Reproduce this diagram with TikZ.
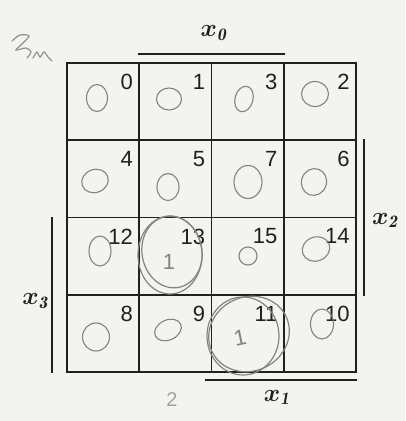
\documentclass[tikz,border=0pt]{standalone}
\usepackage{fontspec}
\newfontfamily\cellfont{Liberation Sans}
\usetikzlibrary{positioning, calc, shapes.geometric}
\definecolor{ink}{RGB}{32, 32, 32}
\definecolor{pencil}{RGB}{135, 130, 130}
\definecolor{paper}{RGB}{243, 243, 239}

\begin{document}
\begin{tikzpicture}[x=1pt, y=-1pt,
    cell/.style={draw=ink, line width=1.8pt, minimum width=72.25pt, minimum height=77.25pt, inner sep=0pt},
    cellnum/.style={font=\cellfont\fontsize{22}{24}\selectfont, text=ink, anchor=north east, inner sep=0pt},
    zeromark/.style={ellipse, draw=pencil, line width=1.1pt, inner sep=0pt},
    ring/.style={ellipse, draw=pencil, line width=1.2pt, inner sep=0pt},
    onemark/.style={font=\cellfont\fontsize{22}{22}\selectfont, text=pencil, inner sep=0pt},
    bar/.style={draw=ink, line width=1.8pt},
    varname/.style={font=\fontsize{25}{27}\selectfont\boldmath, text=ink, inner sep=0pt}]
  \fill[paper] (0,0) rectangle (405,421);
  \useasboundingbox (0,0) rectangle (405,421);

  % cells in Gray code order
  \foreach \n [count=\i from 0] in {0,1,3,2,4,5,7,6,12,13,15,14,8,9,11,10} {
    \pgfmathtruncatemacro{\col}{mod(\i,4)}
    \pgfmathtruncatemacro{\row}{div(\i,4)}
    \node[cell] (c\n) at ({67+72.25*(\col+0.5)}, {63+77.25*(\row+0.5)}) {};
    \node[cellnum] (n\n) at ([xshift=-7pt, yshift=-12pt]c\n.north east) {\n};
  }

  % pencil zeros
  \foreach \n/\x/\y/\w/\h/\r in {0/97/98/21/27/0, 1/169/99/25/22/0, 3/244/99/18/26/-15,
      2/315/94/27/25/0, 4/95/181/27/23/20, 5/168/187/22/27/0, 7/248/182/28/33/0,
      6/314/182/25/27/-20, 12/100/251/22/30/0, 15/248/256/18/18/0, 14/316/249/28/24/20,
      8/96/337/27/28/0, 9/168/330/28/20/25, 10/322/324/23/30/0} {
    \node[zeromark, minimum width=\w pt, minimum height=\h pt, rotate=\r] (z\n) at (\x,\y) {};
  }

  % pencil ones with their loops
  \node[ring, minimum width=64pt, minimum height=78pt] (r13a) at (170,255) {};
  \node[ring, minimum width=60pt, minimum height=72pt, rotate=10] (r13b) at (172,252) {};
  \node[onemark] (o13) at (169,262) {1};
  \node[ring, minimum width=72pt, minimum height=78pt] (r11a) at (243,336) {};
  \node[ring, minimum width=82pt, minimum height=74pt, rotate=25] (r11b) at (249,334) {};
  \node[onemark, rotate=12] (o11) at (240,338) {1};

  % variable bars
  \draw[bar] ([yshift=8pt]c1.north west) -- coordinate (x0mid) ([yshift=8pt]c3.north east);
  \draw[bar] ([xshift=7pt]c6.north east) -- coordinate (x2mid) ([xshift=7pt]c14.south east);
  \draw[bar] ([xshift=-14pt]c12.north west) -- coordinate (x3mid) ([xshift=-14pt]c8.south west);
  \draw[bar] ([xshift=-6pt, yshift=-7pt]c11.south west) -- coordinate (x1mid) ([yshift=-7pt]c10.south east);

  \node[varname, above=13pt of x0mid, xshift=2pt] (lx0) {$x_{\mathit{0}}$};
  \node[varname, right=8pt of x2mid, yshift=-3pt] (lx2) {$x_{\mathit{2}}$};
  \node[varname, left=4pt of x3mid, yshift=-6pt] (lx3) {$x_{\mathit{3}}$};
  \node[varname, below=10pt of x1mid, xshift=-4pt] (lx1) {$x_{\mathit{1}}$};

  % pencil notes
  \node[font=\cellfont\fontsize{20}{22}\selectfont, text=pencil!75] (note2) at (172,400) {2};
  \draw[pencil!90, line width=1.2pt, line cap=round] plot[smooth] coordinates
    {(12,41) (20,35) (29,36) (22,44) (16,50) (26,48) (31,52) (27,58)};
  \draw[pencil!90, line width=1.2pt, line cap=round] plot[smooth] coordinates
    {(33,58) (37,52) (40,57) (44,52) (48,57) (52,61)};
\end{tikzpicture}
\end{document}
